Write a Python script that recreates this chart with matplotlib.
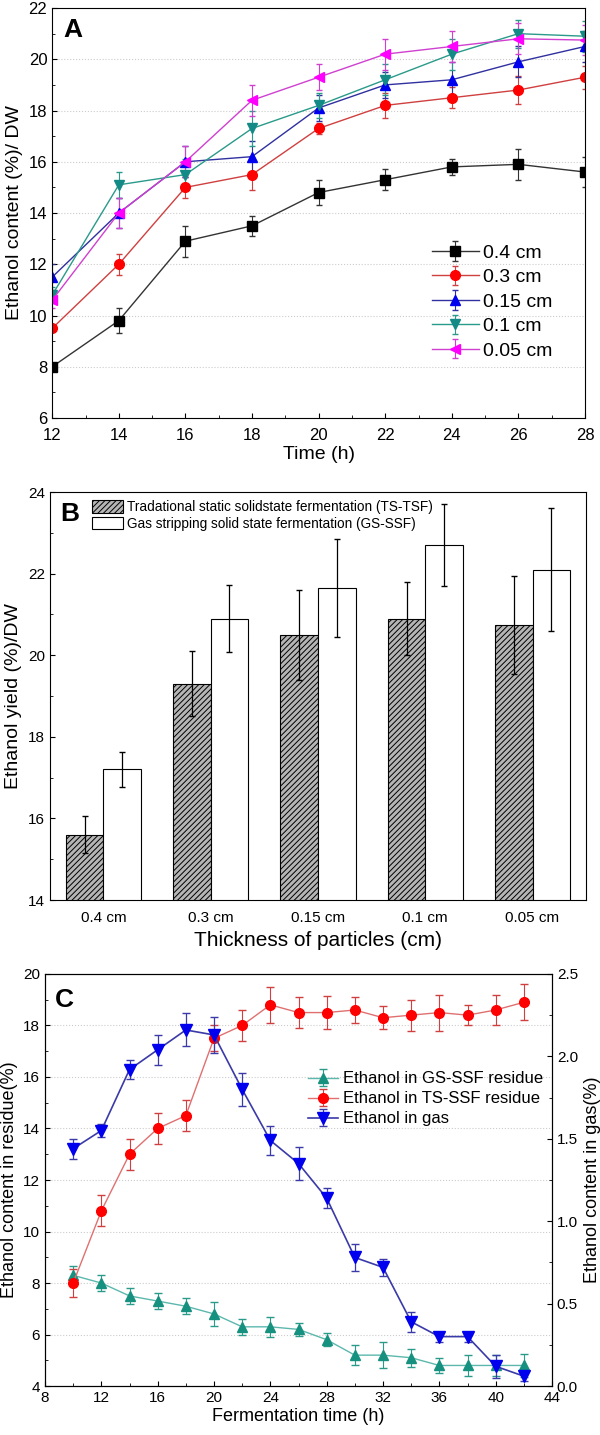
import matplotlib
matplotlib.use('Agg')
import matplotlib.pyplot as plt
import numpy as np

plt.rcParams['font.family'] = ['Liberation Sans', 'DejaVu Sans']
plt.rcParams['hatch.linewidth'] = 0.7

# Panel A: ethanol content vs time for each particle size
time_a = [12, 14, 16, 18, 20, 22, 24, 26, 28]
sizes = ['0.4 cm', '0.3 cm', '0.15 cm', '0.1 cm', '0.05 cm']
a_vals = {
    '0.4 cm': [8.0, 9.8, 12.9, 13.5, 14.8, 15.3, 15.8, 15.9, 15.6],
    '0.3 cm': [9.5, 12.0, 15.0, 15.5, 17.3, 18.2, 18.5, 18.8, 19.3],
    '0.15 cm': [11.5, 14.0, 16.0, 16.2, 18.1, 19.0, 19.2, 19.9, 20.5],
    '0.1 cm': [10.8, 15.1, 15.5, 17.3, 18.2, 19.2, 20.2, 21.0, 20.9],
    '0.05 cm': [10.6, 14.0, 16.0, 18.4, 19.3, 20.2, 20.5, 20.8, 20.75],
}
a_errs = {
    '0.4 cm': [0.1, 0.5, 0.6, 0.4, 0.5, 0.4, 0.3, 0.6, 0.6],
    '0.3 cm': [0.1, 0.4, 0.4, 0.6, 0.2, 0.5, 0.4, 0.55, 0.45],
    '0.15 cm': [0.5, 0.6, 0.6, 0.6, 0.5, 0.5, 0.7, 0.6, 0.6],
    '0.1 cm': [0.3, 0.5, 0.6, 0.7, 0.5, 0.6, 0.6, 0.55, 0.6],
    '0.05 cm': [0.3, 0.6, 0.6, 0.6, 0.5, 0.6, 0.6, 0.6, 0.6],
}
a_colors = ['black', '#ff0000', '#0000ee', '#138a86', '#ff00ff']
a_line_colors = ['#333333', '#d04040', '#3030a0', '#2a9a8a', '#d040d0']
a_markers = ['s', 'o', '^', 'v', '<']

# Panel B: ethanol yield vs particle thickness
b_labels = ['0.4 cm', '0.3 cm', '0.15 cm', '0.1 cm', '0.05 cm']
ts_tsf = [15.6, 19.3, 20.5, 20.9, 20.75]
ts_tsf_err = [0.45, 0.8, 1.1, 0.9, 1.2]
gs_ssf = [17.2, 20.9, 21.65, 22.7, 22.1]
gs_ssf_err = [0.42, 0.83, 1.2, 1.0, 1.5]

# Panel C: residue and gas ethanol during fermentation
time_c = [10, 12, 14, 16, 18, 20, 22, 24, 26, 28, 30, 32, 34, 36, 38, 40, 42]
gs_res = [8.3, 8.0, 7.5, 7.3, 7.1, 6.8, 6.3, 6.3, 6.2, 5.8, 5.2, 5.2, 5.1, 4.8, 4.8, 4.8, 4.8]
gs_res_err = [0.35, 0.3, 0.3, 0.3, 0.3, 0.45, 0.3, 0.4, 0.25, 0.25, 0.4, 0.5, 0.35, 0.3, 0.4, 0.4, 0.45]
ts_res = [8.0, 10.8, 13.0, 14.0, 14.5, 17.5, 18.0, 18.8, 18.5, 18.5, 18.6, 18.3, 18.4, 18.5, 18.4, 18.6, 18.9]
ts_res_err = [0.55, 0.6, 0.6, 0.6, 0.6, 0.5, 0.6, 0.7, 0.6, 0.65, 0.5, 0.45, 0.6, 0.7, 0.4, 0.6, 0.7]
gas = [1.44, 1.55, 1.92, 2.04, 2.16, 2.13, 1.80, 1.49, 1.35, 1.14, 0.78, 0.72, 0.39, 0.30, 0.30, 0.12, 0.06]
gas_err = [0.06, 0.04, 0.06, 0.09, 0.1, 0.11, 0.1, 0.09, 0.1, 0.06, 0.08, 0.05, 0.06, 0.03, 0.03, 0.07, 0.03]

fig = plt.figure(figsize=(6, 14.35), dpi=100)

# ---- A ----
ax1 = fig.add_axes([0.087, 0.7087, 0.888, 0.2857])
for i, s in enumerate(sizes):
    ax1.errorbar(time_a, a_vals[s], yerr=a_errs[s], color=a_line_colors[i],
                 ecolor=a_line_colors[i], elinewidth=0.8, capsize=2, lw=1.0,
                 marker=a_markers[i], markersize=7, mfc=a_colors[i], mec=a_colors[i],
                 label=s)
ax1.set_xlim(12, 28)
ax1.set_ylim(6, 22)
ax1.set_xticks(np.arange(12, 29, 2))
ax1.set_xticks(np.arange(13, 28, 2), minor=True)
ax1.set_yticks(np.arange(6, 23, 2))
ax1.set_yticks(np.arange(7, 22, 2), minor=True)
ax1.tick_params(which='both', direction='in', labelsize=12)
ax1.tick_params(axis='x', pad=7)
ax1.tick_params(which='minor', length=2)
ax1.grid(axis='y', linestyle=':', color='#cccccc', lw=0.8)
ax1.set_xlabel('Time (h)', fontsize=14, labelpad=2)
ax1.set_ylabel('Ethanol content (%)/ DW', fontsize=14)
ax1.text(0.02, 0.975, 'A', transform=ax1.transAxes, fontsize=19, weight='bold', va='top')
leg = ax1.legend(loc='lower left', bbox_to_anchor=(0.68, 0.1), frameon=False,
                 fontsize=14, handlelength=2.4, handletextpad=0.2, labelspacing=0.35)

# ---- B ----
ax2 = fig.add_axes([0.083, 0.3728, 0.894, 0.2843])
x = np.arange(len(b_labels))
w = 0.35
ax2.bar(x - w / 2, ts_tsf, w, yerr=ts_tsf_err, facecolor='#b5b5b5', edgecolor='black',
        hatch='//////', lw=0.8, capsize=2, error_kw=dict(elinewidth=0.9, ecolor='black'),
        label='Tradational static solidstate fermentation (TS-TSF)')
ax2.bar(x + w / 2, gs_ssf, w, yerr=gs_ssf_err, facecolor='white', edgecolor='black',
        lw=0.8, capsize=2, error_kw=dict(elinewidth=0.9, ecolor='black'),
        label='Gas stripping solid state fermentation (GS-SSF)')
ax2.set_xlim(-0.5, 4.5)
ax2.set_ylim(14, 24)
ax2.set_xticks(x)
ax2.set_xticklabels(b_labels)
ax2.set_yticks(np.arange(14, 25, 2))
ax2.set_yticks(np.arange(15, 24, 2), minor=True)
ax2.tick_params(axis='x', length=0, labelsize=11, pad=8)
ax2.tick_params(axis='y', which='both', direction='in', labelsize=11)
ax2.tick_params(which='minor', length=2)
ax2.set_xlabel('Thickness of particles (cm)', fontsize=15)
ax2.set_ylabel('Ethanol yield (%)/DW', fontsize=14)
ax2.text(0.02, 0.975, 'B', transform=ax2.transAxes, fontsize=19, weight='bold', va='top')
ax2.legend(loc='upper left', bbox_to_anchor=(0.055, 1.01), frameon=False, fontsize=9.8,
           handlelength=2.3, handleheight=1.0, handletextpad=0.3, labelspacing=0.2)

# ---- C ----
ax3 = fig.add_axes([0.075, 0.0341, 0.845, 0.2872])
ax4 = ax3.twinx()
h1 = ax3.errorbar(time_c, gs_res, yerr=gs_res_err, color='#5cb8ad', ecolor='#2a9a8a',
                  elinewidth=0.8, capsize=3, lw=1.0, marker='^', markersize=7,
                  mfc='#16917f', mec='#16917f', label='Ethanol in GS-SSF residue')
h2 = ax3.errorbar(time_c, ts_res, yerr=ts_res_err, color='#e07070', ecolor='#d04040',
                  elinewidth=0.8, capsize=3, lw=1.0, marker='o', markersize=7,
                  mfc='#ff0000', mec='#ff0000', label='Ethanol in TS-SSF residue')
h3 = ax4.errorbar(time_c, gas, yerr=gas_err, color='#3a3aa8', ecolor='#3a3aa8',
                  elinewidth=0.9, capsize=3, lw=1.2, marker='v', markersize=8,
                  mfc='#0000ee', mec='#0000ee', label='Ethanol in gas')
ax3.set_xlim(8, 44)
ax3.set_ylim(4, 20)
ax4.set_ylim(0, 2.5)
ax3.set_xticks(np.arange(8, 45, 4))
ax3.set_xticks(np.arange(10, 44, 4), minor=True)
ax3.set_yticks(np.arange(4, 21, 2))
ax3.set_yticks(np.arange(5, 20, 2), minor=True)
ax4.set_yticks(np.arange(0, 2.6, 0.5))
ax4.set_yticks(np.arange(0.25, 2.5, 0.5), minor=True)
ax4.yaxis.set_major_formatter(matplotlib.ticker.FormatStrFormatter('%.1f'))
ax3.tick_params(which='both', direction='in', labelsize=11)
ax4.tick_params(which='both', direction='in', labelsize=11)
ax3.tick_params(which='minor', length=2)
ax4.tick_params(which='minor', length=2)
ax3.grid(axis='y', linestyle=':', color='#cccccc', lw=0.8)
ax3.set_xlabel('Fermentation time (h)', fontsize=13, labelpad=2)
ax3.set_ylabel('Ethanol content in residue(%)', fontsize=13)
ax4.set_ylabel('Ethanol content in gas(%)', fontsize=13)
ax3.text(0.02, 0.965, 'C', transform=ax3.transAxes, fontsize=19, weight='bold', va='top')
ax3.legend([h1, h2, h3], [h1.get_label(), h2.get_label(), h3.get_label()],
           loc='upper left', bbox_to_anchor=(0.49, 0.8), frameon=False, fontsize=12,
           handlelength=1.8, handletextpad=0.3, labelspacing=0.3)

fig.savefig('out.png', dpi=100)
